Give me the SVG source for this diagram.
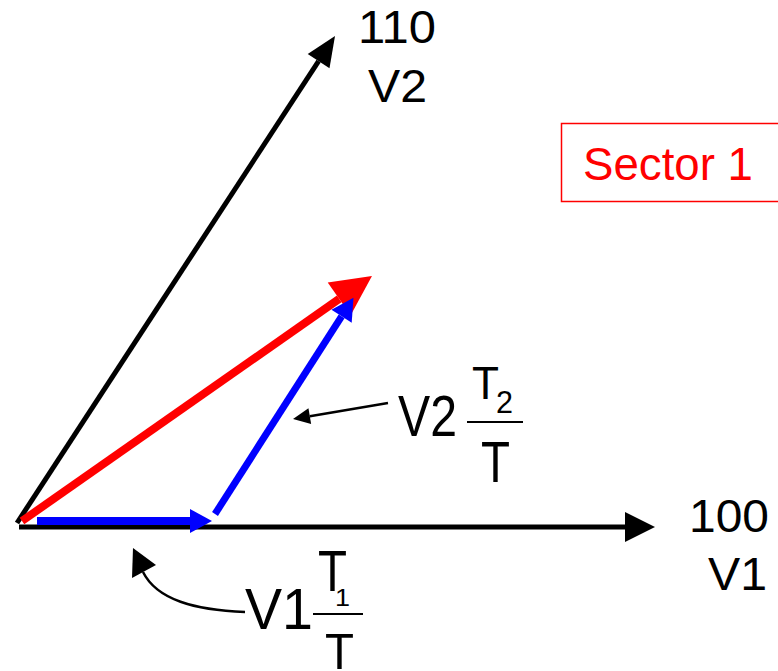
<svg xmlns="http://www.w3.org/2000/svg" width="778" height="671" viewBox="0 0 778 671">
<style>
text{font-family:"Liberation Sans",Arial,sans-serif;fill:#000}
.lbl{font-size:46px}
.red{fill:#ff0000}
</style>
<defs>
<marker id="hk" markerUnits="userSpaceOnUse" orient="auto" markerWidth="30" markerHeight="30" refX="0" refY="15" overflow="visible"><path d="M0,0 L30,15 L0,30 Z" fill="#000"/></marker>
<marker id="hk2" markerUnits="userSpaceOnUse" orient="auto" markerWidth="30" markerHeight="28" refX="0" refY="13" overflow="visible"><path d="M0,0 L30,13 L0,26 Z" fill="#000"/></marker>
<marker id="hr" markerUnits="userSpaceOnUse" orient="auto" markerWidth="40" markerHeight="40" refX="0" refY="20" overflow="visible"><path d="M0,0 L40,20 L0,40 Z" fill="#ff0000"/></marker>
<marker id="hb" markerUnits="userSpaceOnUse" orient="auto" markerWidth="22" markerHeight="24" refX="0" refY="12" overflow="visible"><path d="M0,0 L22,12 L0,24 Z" fill="#0000ff"/></marker>
<marker id="hs" markerUnits="userSpaceOnUse" orient="auto" markerWidth="17" markerHeight="16" refX="0" refY="8" overflow="visible"><path d="M0,0 L17,8 L0,16 Z" fill="#000"/></marker>
</defs>
<g id="connectors" fill="none">
<line id="axis-v1" x1="19" y1="527" x2="625" y2="527" stroke="#000" stroke-width="5" marker-end="url(#hk)"/>
<line id="axis-v2" x1="17" y1="523" x2="318.6" y2="61.1" stroke="#000" stroke-width="5" marker-end="url(#hk2)"/>
<line id="vec-ref" x1="22" y1="521" x2="339.2" y2="298.9" stroke="#ff0000" stroke-width="8" marker-end="url(#hr)"/>
<line id="vec-v1" x1="37" y1="521" x2="190" y2="521" stroke="#0000ff" stroke-width="8" marker-end="url(#hb)"/>
<line id="vec-v2" x1="215" y1="514" x2="341.6" y2="316.3" stroke="#0000ff" stroke-width="7" marker-end="url(#hb)"/>
<line id="ptr-v2" x1="388" y1="403" x2="309.8" y2="416.2" stroke="#000" stroke-width="2.5" marker-end="url(#hs)"/>
<path id="ptr-v1" d="M245,612 C195,610 157,600 143,572" stroke="#000" stroke-width="2.5"/>
<polygon points="133,548 132,578 156,565" fill="#000"/>
</g>
<g id="label-110">
<text class="lbl" x="358" y="43" font-size="45" textLength="78" lengthAdjust="spacingAndGlyphs">110</text>
<text class="lbl" x="368" y="102" textLength="59" lengthAdjust="spacingAndGlyphs">V2</text>
</g>
<g id="label-100">
<text class="lbl" x="689" y="532" textLength="80" lengthAdjust="spacingAndGlyphs">100</text>
<text class="lbl" x="708" y="590" font-size="48" textLength="59" lengthAdjust="spacingAndGlyphs">V1</text>
</g>
<g id="sector">
<rect x="561.5" y="123.5" width="240" height="78" fill="none" stroke="#ff0000" stroke-width="1.5"/>
<text class="red" x="583" y="180" font-size="47" textLength="170" lengthAdjust="spacingAndGlyphs">Sector 1</text>
</g>
<g id="label-v2-frac">
<text x="398" y="436" font-size="57" textLength="59" lengthAdjust="spacingAndGlyphs">V2</text>
<text x="472" y="399" font-size="47" textLength="27" lengthAdjust="spacingAndGlyphs">T</text>
<text x="496" y="413" font-size="31" textLength="17" lengthAdjust="spacingAndGlyphs">2</text>
<line x1="467" y1="422" x2="523" y2="422" stroke="#000" stroke-width="2"/>
<text x="481" y="482" font-size="58" textLength="29" lengthAdjust="spacingAndGlyphs">T</text>
</g>
<g id="label-v1-frac">
<text x="245" y="629" font-size="58" textLength="68" lengthAdjust="spacingAndGlyphs">V1</text>
<text x="318" y="591" font-size="58" textLength="29" lengthAdjust="spacingAndGlyphs">T</text>
<text x="335" y="606" font-size="23" textLength="15" lengthAdjust="spacingAndGlyphs">1</text>
<line x1="313" y1="614" x2="363" y2="614" stroke="#000" stroke-width="2"/>
<text x="325" y="669" font-size="50" textLength="29" lengthAdjust="spacingAndGlyphs">T</text>
</g>
</svg>
